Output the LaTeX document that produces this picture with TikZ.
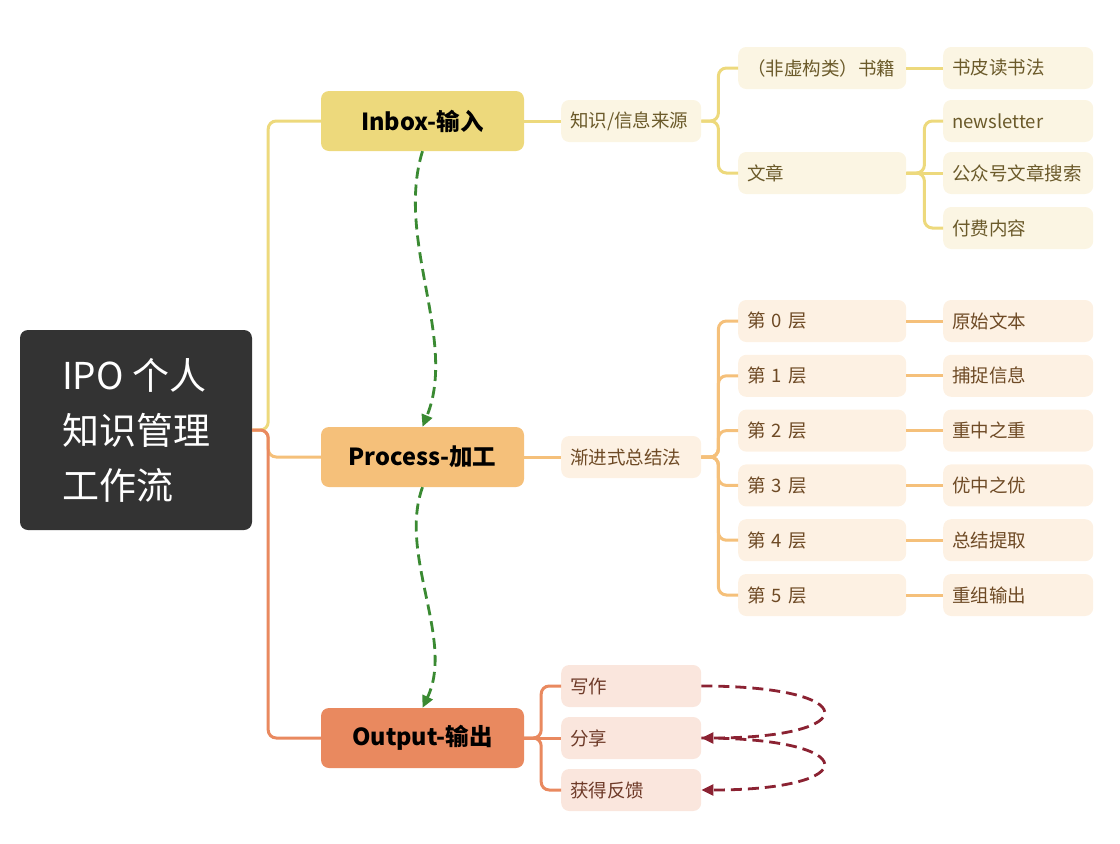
\documentclass[tikz,border=0pt]{standalone}
\usepackage{fontspec}
\setmainfont{Noto Sans CJK SC}
\usetikzlibrary{arrows.meta}

\definecolor{rootc}{HTML}{333333}
\definecolor{inboxc}{HTML}{EDD97C}
\definecolor{procc}{HTML}{F5C07A}
\definecolor{outc}{HTML}{E9895F}
\definecolor{inbfill}{HTML}{FBF5E3}
\definecolor{prcfill}{HTML}{FDF1E3}
\definecolor{outfill}{HTML}{FAE6DD}
\definecolor{inbtext}{HTML}{6B5A2A}
\definecolor{prctext}{HTML}{6E4A25}
\definecolor{outtext}{HTML}{6E3A28}
\definecolor{flowgreen}{HTML}{3A8A32}
\definecolor{flowred}{HTML}{8B2232}

\begin{document}
\begin{tikzpicture}[x=1pt, y=-1pt,
  rootbox/.style={fill=rootc, rounded corners=8pt, minimum width=232pt, minimum height=200pt,
    text=white, align=left, font=\fontsize{37}{55}\selectfont},
  topicbox/.style={rounded corners=8pt, minimum width=203pt, minimum height=60pt,
    font=\bfseries\fontsize{23.5}{28}\selectfont},
  lvA/.style={rounded corners=8pt, minimum height=42pt, anchor=west, inner xsep=9pt,
    text width=122pt, align=left, font=\fontsize{18.5}{22}\selectfont},
  lvB/.style={lvA, text width=150pt},
  lvC/.style={lvA, text width=132pt},
  inb/.style={fill=inbfill, text=inbtext},
  prc/.style={fill=prcfill, text=prctext},
  outp/.style={fill=outfill, text=outtext},
  lnY/.style={draw=inboxc, line width=3pt, rounded corners=8pt},
  lnP/.style={draw=procc, line width=3pt, rounded corners=8pt},
  lnO/.style={draw=outc, line width=3pt, rounded corners=8pt},
  flowG/.style={draw=flowgreen, line width=2.8pt, dash pattern=on 11pt off 6pt,
    -{Triangle[length=12pt,width=11pt]}},
  flowR/.style={draw=flowred, line width=2.8pt, dash pattern=on 11pt off 6pt,
    -{Triangle[length=12pt,width=11pt]}}
]
\useasboundingbox (0,0) rectangle (1120,844);

% root and main topics
\node[rootbox] (root) at (136,430) {IPO 个人\\知识管理\\工作流};
\node[topicbox, fill=inboxc] (inbox) at (422.5,121) {Inbox-输入};
\node[topicbox, fill=procc] (process) at (422.5,457) {Process-加工};
\node[topicbox, fill=outc] (output) at (422.5,738) {Output-输出};

% inbox branch
\node[lvA, inb] (src) at (561,121) {知识/信息来源};
\node[lvB, inb] (book) at (738,68) {（非虚构类）书籍};
\node[lvB, inb] (art) at (738,173) {文章};
\node[lvC, inb] (pishu) at (943,68) {书皮读书法};
\node[lvC, inb] (news) at (943,121) {newsletter};
\node[lvC, inb] (gzh) at (943,173) {公众号文章搜索};
\node[lvC, inb] (paid) at (943,228) {付费内容};

% process branch
\node[lvA, prc] (pss) at (561,457) {渐进式总结法};
\foreach \i/\res in {0/原始文本, 1/捕捉信息, 2/重中之重, 3/优中之优, 4/总结提取, 5/重组输出} {
  \node[lvB, prc] (lay\i) at (738,321+54.8*\i) {第 \i\ 层};
  \node[lvC, prc] (res\i) at (943,321+54.8*\i) {\res};
}

% output branch
\node[lvA, outp] (write) at (561,686) {写作};
\node[lvA, outp] (share) at (561,738) {分享};
\node[lvA, outp] (fb) at (561,790) {获得反馈};

% connectors
\draw[lnY] (root.east) -- ++(16,0) |- (inbox.west);
\draw[lnP] (root.east) -- ++(16,0) |- (process.west);
\draw[lnO] (root.east) -- ++(16,0) |- (output.west);

\draw[lnY] (inbox.east) -- (src.west);
\draw[lnY] (src.east) -- ++(17,0) |- (book.west);
\draw[lnY] (src.east) -- ++(17,0) |- (art.west);
\draw[lnY] (book.east) -- (pishu.west);
\draw[lnY] (art.east) -- (gzh.west);
\foreach \n in {news, paid}
  \draw[lnY] (art.east) -- ++(18,0) |- (\n.west);

\draw[lnP] (process.east) -- (pss.west);
\foreach \i in {0,...,5} {
  \draw[lnP] (pss.east) -- ++(17,0) |- (lay\i.west);
  \draw[lnP] (lay\i.east) -- (res\i.west);
}

\draw[lnO] (output.east) -- (share.west);
\draw[lnO] (output.east) -- ++(17,0) |- (write.west);
\draw[lnO] (output.east) -- ++(17,0) |- (fb.west);

% flow arrows
\draw[flowG] (inbox.south) .. controls (395,240) and (458,340) .. (process.north);
\draw[flowG] (process.south) .. controls (398,555) and (455,640) .. (output.north);
\draw[flowR] (write.east) .. controls (864,686) and (864,738) .. (share.east);
\draw[flowR] (share.east) .. controls (864,738) and (864,790) .. (fb.east);
\end{tikzpicture}
\end{document}
